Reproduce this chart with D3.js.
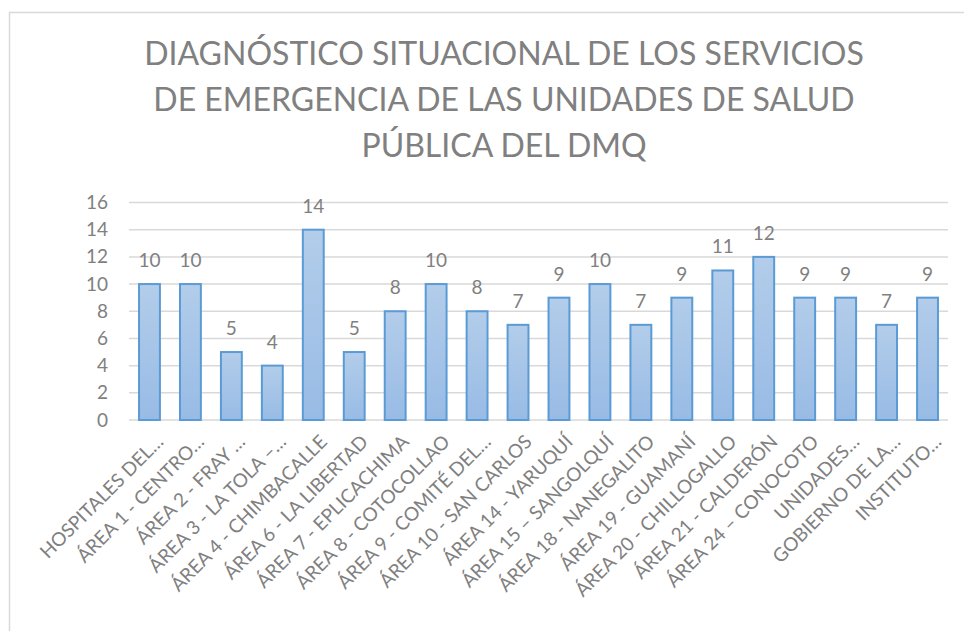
<!DOCTYPE html>
<html>
<head>
<meta charset="utf-8">
<script src="https://cdn.jsdelivr.net/npm/d3@7"></script>
<style>
  body { margin: 0; background: #fff; }
  text { font-family: Lato, "Open Sans", sans-serif; fill: #808080; }
</style>
</head>
<body>
<svg id="chart" width="964" height="631"></svg>
<script>
// chart data
var titleLines = [
    "DIAGNÓSTICO SITUACIONAL DE LOS SERVICIOS",
    "DE EMERGENCIA DE LAS UNIDADES DE SALUD",
    "PÚBLICA DEL DMQ"
];

var categories = [
    "HOSPITALES DEL…",
    "ÁREA 1 - CENTRO…",
    "ÁREA 2 - FRAY …",
    "ÁREA 3 - LA TOLA –…",
    "ÁREA 4 - CHIMBACALLE",
    "ÁREA 6 - LA LIBERTAD",
    "ÁREA 7 - EPLICACHIMA",
    "ÁREA 8 - COTOCOLLAO",
    "ÁREA 9 - COMITÉ DEL…",
    "ÁREA 10 - SAN CARLOS",
    "ÁREA 14 - YARUQUÍ",
    "ÁREA 15 – SANGOLQUÍ",
    "ÁREA 18 - NANEGALITO",
    "ÁREA 19 - GUAMANÍ",
    "ÁREA 20 - CHILLOGALLO",
    "ÁREA 21 - CALDERÓN",
    "ÁREA 24 – CONOCOTO",
    "UNIDADES…",
    "GOBIERNO DE LA…",
    "INSTITUTO…"
];

var values = [10, 10, 5, 4, 14, 5, 8, 10, 8, 7, 9, 10, 7, 9, 11, 12, 9, 9, 7, 9];

var yTicks = [0, 2, 4, 6, 8, 10, 12, 14, 16];

var svg = d3.select("#chart");

var margin = {top: 202.5, left: 129, right: 16, bottom: 211},
    width = 964 - margin.left - margin.right,
    height = 631 - margin.top - margin.bottom;

// outer chart border (runs off the picture on the right and bottom)
svg.append("rect")
    .attr("x", 9.5)
    .attr("y", 12.5)
    .attr("width", 1000)
    .attr("height", 700)
    .attr("fill", "none")
    .attr("stroke", "#d9d9d9")
    .attr("stroke-width", 1.5);

var defs = svg.append("defs");
var grad = defs.append("linearGradient")
    .attr("id", "barFill")
    .attr("x1", 0).attr("y1", 0)
    .attr("x2", 0).attr("y2", 1);
grad.append("stop").attr("offset", "0%").attr("stop-color", "#b3cdea");
grad.append("stop").attr("offset", "100%").attr("stop-color", "#98bbe5");

// title
svg.append("g")
    .attr("class", "title")
    .selectAll("text")
    .data(titleLines)
    .enter().append("text")
    .attr("x", 504)
    .attr("y", function(d, i) { return 65 + i * 46; })
    .attr("text-anchor", "middle")
    .attr("font-size", "32px")
    .text(function(d) { return d; });

var g = svg.append("g")
    .attr("transform", "translate(" + margin.left + "," + margin.top + ")");

var x = d3.scaleBand()
    .domain(d3.range(categories.length))
    .range([0, width])
    .paddingInner(0.49)
    .paddingOuter(0.245);

var y = d3.scaleLinear()
    .domain([0, 16])
    .range([height, 0]);

// gridlines
g.append("g")
    .selectAll("line")
    .data(yTicks)
    .enter().append("line")
    .attr("x1", 0)
    .attr("x2", width)
    .attr("y1", function(d) { return y(d); })
    .attr("y2", function(d) { return y(d); })
    .attr("stroke", "#d9d9d9")
    .attr("stroke-width", 1.5);

// y axis
var yAxis = g.append("g")
    .call(d3.axisLeft(y).tickValues(yTicks).tickSize(0).tickPadding(21));
yAxis.select(".domain").remove();
yAxis.selectAll("text")
    .attr("font-size", "19px")
    .attr("fill", "#808080")
    .style("font-family", "Lato, sans-serif");

// bars
g.append("g")
    .selectAll("rect")
    .data(values)
    .enter().append("rect")
    .attr("x", function(d, i) { return x(i); })
    .attr("y", function(d) { return y(d); })
    .attr("width", x.bandwidth())
    .attr("height", function(d) { return height - y(d); })
    .attr("fill", "url(#barFill)")
    .attr("stroke", "#5b9bd5")
    .attr("stroke-width", 2);

// value labels
g.append("g")
    .selectAll("text")
    .data(values)
    .enter().append("text")
    .attr("x", function(d, i) { return x(i) + x.bandwidth() / 2; })
    .attr("y", function(d) { return y(d) - 17; })
    .attr("text-anchor", "middle")
    .attr("font-size", "19px")
    .text(function(d) { return d; });

// x axis labels, rotated
var xAxis = g.append("g")
    .attr("transform", "translate(0," + height + ")")
    .call(d3.axisBottom(x).tickSize(0).tickFormat(function(i) { return categories[i]; }));
xAxis.select(".domain").remove();
xAxis.selectAll("text")
    .attr("font-size", "19px")
    .attr("fill", "#808080")
    .style("font-family", "Lato, sans-serif")
    .attr("text-anchor", "end")
    .attr("dy", null)
    .attr("y", 0)
    .attr("transform", "translate(15,23) rotate(-45)");
</script>
</body>
</html>
